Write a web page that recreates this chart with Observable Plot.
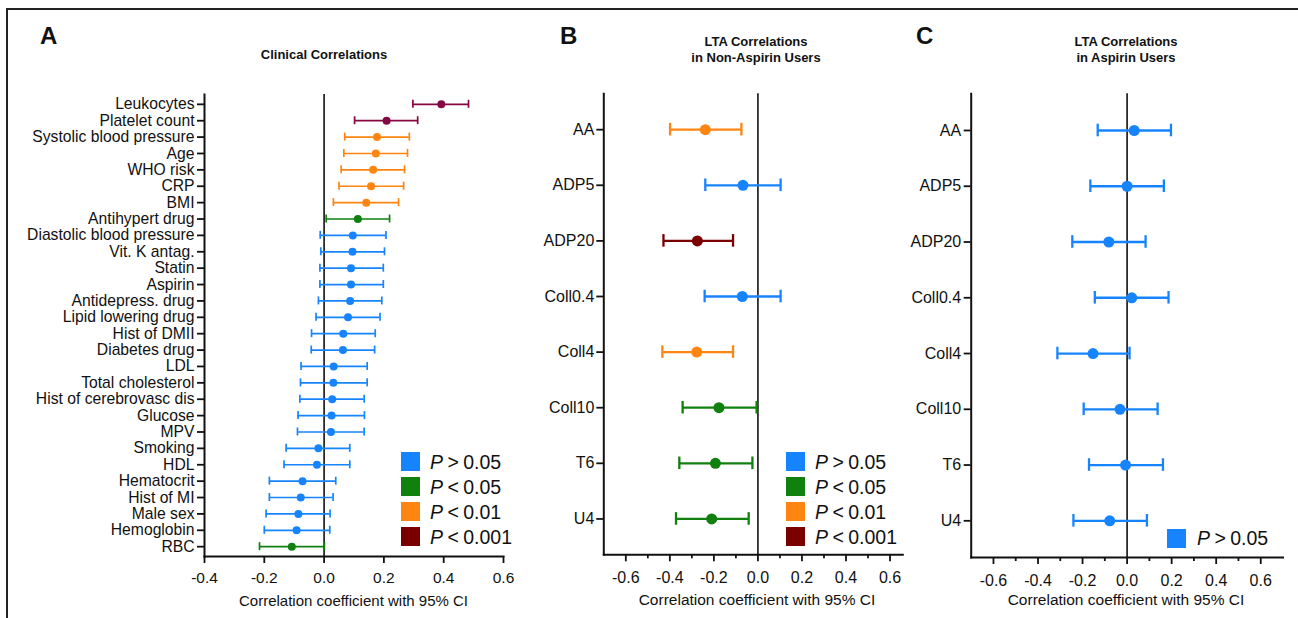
<!DOCTYPE html>
<html><head><meta charset="utf-8">
<script src="https://cdn.jsdelivr.net/npm/d3@7"></script>
<script src="https://cdn.jsdelivr.net/npm/@observablehq/plot@0.6"></script>
<style>
html,body{margin:0;padding:0;background:#fff;}
#root{position:relative;width:1298px;height:618px;overflow:hidden;background:#fff;font-family:"Liberation Sans",Arial,Helvetica,sans-serif;color:#111;}
#root svg{position:absolute;top:0;}
.abs{position:absolute;white-space:nowrap;}
.border{position:absolute;left:6px;top:8px;width:1400px;height:700px;border-top:2.5px solid #222;border-left:2.5px solid #222;}
.letter{font-weight:bold;font-size:24px;line-height:24px;}
.title{font-weight:bold;font-size:13px;line-height:16.4px;text-align:center;transform:translateX(-50%);}
.xlab{font-size:15px;line-height:15px;transform:translate(-50%,-50%);}
.sw{position:absolute;width:19px;height:19px;}
.lt{font-size:19.5px;line-height:20px;transform:translateY(-50%);word-spacing:-1px;}
</style></head><body><div id="root"><div class="border"></div></div>
<script>
// ---------- data ----------
const namesA = ["Leukocytes","Platelet count","Systolic blood pressure","Age","WHO risk","CRP","BMI","Antihypert drug","Diastolic blood pressure","Vit. K antag.","Statin","Aspirin","Antidepress. drug","Lipid lowering drug","Hist of DMII","Diabetes drug","LDL","Total cholesterol","Hist of cerebrovasc dis","Glucose","MPV","Smoking","HDL","Hematocrit","Hist of MI","Male sex","Hemoglobin","RBC"];
const rA  = [0.392,0.209,0.177,0.173,0.164,0.157,0.141,0.113,0.096,0.095,0.090,0.090,0.087,0.080,0.064,0.063,0.032,0.031,0.027,0.025,0.023,-0.019,-0.024,-0.072,-0.078,-0.086,-0.092,-0.108];
const loA = [0.297,0.102,0.069,0.066,0.057,0.050,0.031,0.007,-0.013,-0.011,-0.014,-0.014,-0.019,-0.027,-0.042,-0.043,-0.077,-0.079,-0.081,-0.087,-0.089,-0.127,-0.134,-0.183,-0.183,-0.194,-0.200,-0.216];
const hiA = [0.483,0.313,0.285,0.279,0.269,0.266,0.249,0.219,0.207,0.202,0.198,0.198,0.193,0.187,0.171,0.169,0.144,0.144,0.134,0.135,0.134,0.086,0.086,0.039,0.030,0.020,0.019,0.001];
const sigA = ["<0.001","<0.001","<0.01","<0.01","<0.01","<0.01","<0.01","<0.05","ns","ns","ns","ns","ns","ns","ns","ns","ns","ns","ns","ns","ns","ns","ns","ns","ns","ns","ns","<0.05"];

const namesLTA = ["AA","ADP5","ADP20","Coll0.4","Coll4","Coll10","T6","U4"];
const rB  = [-0.239,-0.068,-0.275,-0.071,-0.278,-0.177,-0.193,-0.210];
const loB = [-0.399,-0.239,-0.429,-0.242,-0.434,-0.342,-0.357,-0.372];
const hiB = [-0.075,0.103,-0.113,0.103,-0.113,-0.006,-0.025,-0.042];
const sigB = ["<0.01","ns","<0.001","ns","<0.01","<0.05","<0.05","<0.05"];

const rC  = [0.032,0.000,-0.082,0.021,-0.153,-0.032,-0.007,-0.078];
const loC = [-0.132,-0.165,-0.246,-0.145,-0.313,-0.195,-0.171,-0.241];
const hiC = [0.197,0.165,0.083,0.186,0.011,0.137,0.161,0.089];
const sigC = ["ns","ns","ns","ns","ns","ns","ns","ns"];

const ticksA = [-0.4,-0.2,0,0.2,0.4,0.6];
const ticksLTA = [-0.6,-0.4,-0.2,0,0.2,0.4,0.6];
const minorLTA = [-0.5,-0.3,-0.1,0.1,0.3,0.5];

const sigLevels = ["ns","<0.05","<0.01","<0.001"];
const sigLabels = ["> 0.05","< 0.05","< 0.01","< 0.001"];
const sigColors = {"ns":"#1784ff","<0.05":"#10800f","<0.01":"#ff8512","<0.001":"#7a0000"};
const sigColorsA = {"ns":"#1784ff","<0.05":"#10800f","<0.01":"#ff8512","<0.001":"#860842"};

const axisTitle = "Correlation coefficient with 95% CI";
const FONT = '"Liberation Sans",Arial,Helvetica,sans-serif';

// ---------- panels ----------
function panel(o){
  const data = o.names.map((n,i)=>({name:n, r:o.r[i], lo:o.lo[i], hi:o.hi[i], c:o.colors[o.sig[i]]}));
  const marks = [
    Plot.ruleX([0], {stroke:"#111", strokeWidth:1.6}),
    Plot.ruleY(data, {y:"name", x1:"lo", x2:"hi", stroke:"c", strokeWidth:o.sw}),
    Plot.tickX(data, {x:"lo", y:"name", stroke:"c", strokeWidth:o.sw, insetTop:-o.cap, insetBottom:-o.cap}),
    Plot.tickX(data, {x:"hi", y:"name", stroke:"c", strokeWidth:o.sw, insetTop:-o.cap, insetBottom:-o.cap}),
    Plot.dot(data, {x:"r", y:"name", fill:"c", r:o.dotR}),
    Plot.frame({anchor:"left", stroke:"#111", strokeWidth:2}),
    Plot.frame({anchor:"bottom", stroke:"#111", strokeWidth:2}),
    Plot.axisY({tickSize:7, tickPadding:o.ytp, fontSize:o.yfs, label:null, strokeWidth:1.8, fill:"#111"}),
    Plot.axisX({ticks:o.ticks, tickFormat:d=>d.toFixed(1), tickSize:7, tickPadding:o.tp, fontSize:o.fs, label:null, strokeWidth:1.8, fill:"#111"})
  ];
  if (o.minor) marks.push(Plot.axisX({ticks:o.minor, tickFormat:()=>"", tickSize:4, label:null, strokeWidth:1.8}));
  const svg = Plot.plot({
    width:o.width, height:618,
    marginTop:o.mt, marginBottom:o.mb, marginLeft:o.ml, marginRight:o.mr,
    x:{domain:o.xDomain},
    y:{type:"band", domain:o.names, paddingInner:1, paddingOuter:o.pad, align:0.5, round:false},
    color:{type:"identity"},
    style:{fontFamily:FONT, background:"transparent", color:"#111", overflow:"visible"},
    marks
  });
  svg.style.left = o.left + "px";
  return svg;
}

const root = document.getElementById("root");
root.appendChild(panel({names:namesA, r:rA, lo:loA, hi:hiA, sig:sigA, colors:sigColorsA,
  left:0, width:540, mt:94, mb:62, ml:204, mr:37, xDomain:[-0.4,0.6], pad:0.6,
  ticks:ticksA, fs:15.5, yfs:15.7, tp:8, ytp:3, sw:1.7, cap:4, dotR:4}));
root.appendChild(panel({names:namesLTA, r:rB, lo:loB, hi:hiB, sig:sigB, colors:sigColors,
  left:540, width:380, mt:93.3, mb:63.7, ml:63.3, mr:17.7, xDomain:[-0.7,0.658], pad:0.645,
  ticks:ticksLTA, minor:minorLTA, fs:16, yfs:16, tp:10, ytp:2.5, sw:2.3, cap:6.3, dotR:5.5}));
root.appendChild(panel({names:namesLTA, r:rC, lo:loC, hi:hiC, sig:sigC, colors:sigColors,
  left:920, width:378, mt:93.3, mb:61, ml:50.7, mr:15.5, xDomain:[-0.7,0.7], pad:0.658,
  ticks:ticksLTA, minor:minorLTA, fs:16, yfs:16, tp:10, ytp:3, sw:2.3, cap:6.3, dotR:5.5}));

// ---------- text ----------
function add(cls, html, css){
  const d = document.createElement("div");
  d.className = "abs " + cls; d.innerHTML = html;
  Object.assign(d.style, css); root.appendChild(d); return d;
}
add("letter","A",{left:"40px",top:"24px"});
add("letter","B",{left:"560px",top:"24px"});
add("letter","C",{left:"916px",top:"24px"});
add("title","Clinical Correlations",{left:"324px",top:"46.5px"});
add("title","LTA Correlations<br>in Non-Aspirin Users",{left:"756px",top:"34px"});
add("title","LTA Correlations<br>in Aspirin Users",{left:"1126px",top:"34px"});
add("xlab",axisTitle,{left:"353.5px",top:"600px"});
add("xlab",axisTitle,{left:"757px",top:"599px",fontSize:"15.5px"});
add("xlab",axisTitle,{left:"1126px",top:"599px",fontSize:"15.5px"});

function legend(levels, x, y0, step, tx){
  levels.forEach((lv,i)=>{
    const k = sigLevels.indexOf(lv);
    const s = document.createElement("div");
    s.className = "sw";
    Object.assign(s.style,{left:x+"px", top:(y0+i*step-9.5)+"px", background:sigColors[lv]});
    root.appendChild(s);
    add("lt","<i>P</i> "+sigLabels[k].replace("<","&lt;").replace(">","&gt;"),{left:tx+"px", top:(y0+i*step)+"px"});
  });
}
legend(sigLevels, 401, 461.5, 25, 430);
legend(sigLevels, 785.5, 461.7, 25, 815);
legend(["ns"], 1167, 538.3, 25, 1197);
</script></body></html>
